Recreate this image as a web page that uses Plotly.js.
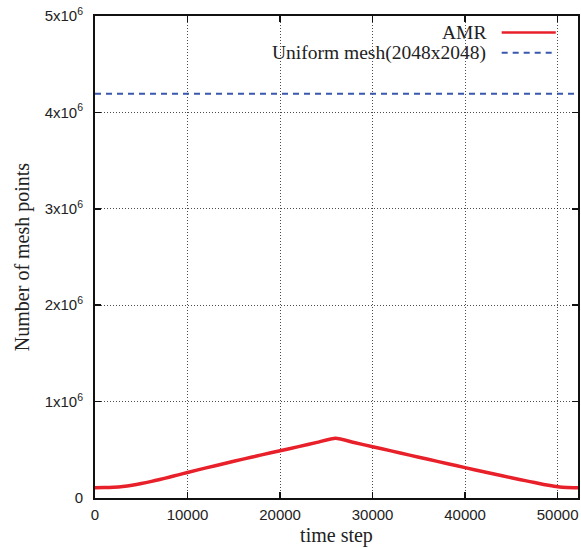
<!DOCTYPE html>
<html>
<head>
<meta charset="utf-8">
<script src="https://cdn.plot.ly/plotly-3.0.1.min.js"></script>
<style>html,body{margin:0;padding:0;background:#fff;}#chart{width:581px;height:548px;}</style>
</head>
<body>
<div id="chart"></div>
<script>
// AMR series (time step, number of mesh points)
var amrSteps = [0, 1000, 2000, 3000, 4000, 5000, 6000, 7000, 8000, 9000, 10000, 12000, 14000, 16000, 18000, 20000, 22000, 24000, 26000, 28000, 30000, 32000, 34000, 36000, 38000, 40000, 42000, 44000, 46000, 47000, 48000, 49000, 50000, 51000, 52200];
var amrPoints = [107000, 108000, 112000, 120000, 133000, 150000, 170000, 192000, 216000, 240000, 265000, 312000, 358000, 403000, 447000, 490000, 533000, 577000, 620000, 576000, 532000, 489000, 445000, 402000, 358000, 315000, 272000, 230000, 190000, 170000, 150000, 132000, 117000, 109000, 107000];
// Uniform mesh series
var uniformSteps = [0, 52200];
var uniformPoints = [4194304, 4194304];
// Axis ticks
var xTickVals = [0, 10000, 20000, 30000, 40000, 50000];
var xTickText = ['0', '10000', '20000', '30000', '40000', '50000'];
var yTickVals = [0, 1e6, 2e6, 3e6, 4e6, 5e6];
var yTickText = ['0', '1x10<sup>6</sup>', '2x10<sup>6</sup>', '3x10<sup>6</sup>', '4x10<sup>6</sup>', '5x10<sup>6</sup>'];
var seriesNames = ['AMR', 'Uniform mesh(2048x2048)'];

var red = '#e8202a', blue = '#3a58ad';
var serif = 'Liberation Serif, Times New Roman, serif';
var traces = [
  {x: amrSteps, y: amrPoints, type: 'scatter', mode: 'lines', name: seriesNames[0],
   line: {color: red, width: 3.5, shape: 'spline', smoothing: 0.5}, showlegend: false},
  {x: uniformSteps, y: uniformPoints, type: 'scatter', mode: 'lines', name: seriesNames[1],
   line: {color: blue, width: 2, dash: '6px,5px'}, showlegend: false}
];

var axisCommon = {
  showline: true, linecolor: '#111', linewidth: 2, mirror: 'ticks',
  ticks: 'inside', ticklen: 6, tickwidth: 1.5, tickcolor: '#111',
  showgrid: true, gridcolor: 'rgba(0,0,0,0.7)', gridwidth: 1, griddash: '1px,2px',
  zeroline: false,
  tickfont: {family: 'Liberation Sans, Arial, sans-serif', size: 15, color: '#222'}
};

var layout = {
  width: 581, height: 548,
  margin: {l: 95, r: 3, t: 16, b: 50},
  paper_bgcolor: '#fff', plot_bgcolor: '#fff',
  showlegend: false,
  xaxis: Object.assign({}, axisCommon, {
    range: [0, 52200], tickmode: 'array', tickvals: xTickVals, ticktext: xTickText,
    ticklabelstandoff: 2,
    title: {text: 'time step', font: {family: serif, size: 20, color: '#222'}, standoff: 6}
  }),
  yaxis: Object.assign({}, axisCommon, {
    range: [0, 5e6], tickmode: 'array', tickvals: yTickVals, ticktext: yTickText,
    ticklabelstandoff: 7,
    title: {text: 'Number of mesh points', font: {family: serif, size: 20, color: '#222'}, standoff: 10}
  }),
  annotations: [
    {xref: 'paper', yref: 'paper', x: 0.814, y: 0.966, xanchor: 'right', yanchor: 'middle', showarrow: false,
     text: seriesNames[0], font: {family: serif, size: 19.5, color: '#222'}},
    {xref: 'paper', yref: 'paper', x: 0.814, y: 0.924, xanchor: 'right', yanchor: 'middle', showarrow: false,
     text: seriesNames[1], font: {family: serif, size: 19.5, color: '#222'}}
  ],
  shapes: [
    {type: 'line', xref: 'paper', yref: 'paper', x0: 0.842, x1: 0.954, y0: 0.966, y1: 0.966, line: {color: red, width: 2.5}},
    {type: 'line', xref: 'paper', yref: 'paper', x0: 0.842, x1: 0.946, y0: 0.924, y1: 0.924, line: {color: blue, width: 2, dash: '6px,5px'}}
  ]
};

Plotly.newPlot('chart', traces, layout, {displayModeBar: false, staticPlot: true});
</script>
</body>
</html>
